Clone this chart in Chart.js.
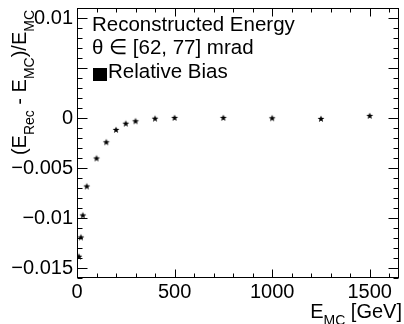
<!DOCTYPE html>
<html><head><meta charset="utf-8">
<script src="https://cdn.jsdelivr.net/npm/chart.js@4/dist/chart.umd.min.js"></script>
<style>html,body{margin:0;padding:0;background:#fff;overflow:hidden}#wrap{width:404px;height:324px;position:relative}</style>
</head><body><div id="wrap"><canvas id="c" width="404" height="324"></canvas></div>
<script>
// ---- data ----
const energies = [10, 20, 30, 50, 100, 150, 200, 250, 300, 400, 500, 750, 1000, 1250, 1500];
const relBias  = [-0.01387, -0.01195, -0.00975, -0.00685, -0.00405, -0.00243, -0.0012, -0.00057, -0.00033, -0.00007, 0.0, 0.0, -0.00003, -0.0001, 0.0002];
const xTickValues = [0, 500, 1000, 1500];
const yTickValues = [-0.015, -0.01, -0.005, 0, 0.01];
const legendLines = ['Reconstructed Energy', 'θ ∈ [62, 77] mrad'];
const seriesLabel = 'Relative Bias';
const yTitleParts = [['(E', 0], ['Rec', 1], [' - E', 0], ['MC', 1], [')/E', 0], ['MC', 1]];
const xTitleParts = [['E', 0], ['MC', 1], [' [GeV]', 0]];

const FONT = '"Liberation Sans", Arial, Helvetica, sans-serif';

// filled star marker
function makeStar(r) {
  const s = Math.ceil(r * 2 + 2);
  const cv = document.createElement('canvas');
  cv.width = s; cv.height = s;
  const c = cv.getContext('2d');
  c.fillStyle = '#000';
  c.beginPath();
  for (let i = 0; i < 10; i++) {
    const rr = i % 2 === 0 ? r : r * 0.42;
    const a = -Math.PI / 2 + i * Math.PI / 5;
    const px = s / 2 + rr * Math.cos(a), py = s / 2 + rr * Math.sin(a);
    if (i === 0) c.moveTo(px, py); else c.lineTo(px, py);
  }
  c.closePath(); c.fill();
  return cv;
}
const starImg = makeStar(3.6);

function fmt(v) { return String(+v.toFixed(4)).replace('-', '\u2212'); }

function richWidth(ctx, parts, size, subSize) {
  let w = 0;
  for (const [t, s] of parts) { ctx.font = (s ? subSize : size) + 'px ' + FONT; w += ctx.measureText(t).width; }
  return w;
}
function drawRich(ctx, parts, x, y, size, subSize, shift) {
  let cx = x;
  for (const [t, s] of parts) {
    ctx.font = (s ? subSize : size) + 'px ' + FONT;
    ctx.fillText(t, cx, y + (s ? shift : 0));
    cx += ctx.measureText(t).width;
  }
}

const decor = {
  id: 'rootDecor',
  afterDraw(chart) {
    const ctx = chart.ctx, a = chart.chartArea;
    const xs = chart.scales.x, ys = chart.scales.y;
    ctx.save();
    ctx.strokeStyle = '#000'; ctx.fillStyle = '#000'; ctx.lineWidth = 1;
    const L = Math.round(a.left) + 0.5, R = Math.round(a.right) - 0.5;
    const T = Math.round(a.top) + 0.5, B = Math.round(a.bottom) - 0.5;
    ctx.strokeRect(L, T, R - L, B - T);
    ctx.beginPath();
    // y ticks
    for (let k = -16; k <= 11; k++) {
      const v = k / 1000;
      const y = Math.round(ys.getPixelForValue(v)) + 0.5;
      const len = (k % 5 === 0) ? 10 : 5;
      ctx.moveTo(L, y); ctx.lineTo(L + len, y);
      ctx.moveTo(R, y); ctx.lineTo(R - len, y);
    }
    // x ticks
    for (let v = 0; v <= 1650; v += 100) {
      const x = Math.round(xs.getPixelForValue(v)) + 0.5;
      const len = (v % 500 === 0) ? 8 : 4;
      ctx.moveTo(x, B); ctx.lineTo(x, B - len);
      ctx.moveTo(x, T); ctx.lineTo(x, T + len);
    }
    ctx.stroke();

    // y title
    ctx.textBaseline = 'alphabetic'; ctx.textAlign = 'left';
    const yw = richWidth(ctx, yTitleParts, 20, 14);
    ctx.save();
    ctx.translate(26, 10 + yw);
    ctx.rotate(-Math.PI / 2);
    drawRich(ctx, yTitleParts, 0, 0, 20, 14, 8);
    ctx.restore();

    // x title
    const xw = richWidth(ctx, xTitleParts, 20, 14);
    drawRich(ctx, xTitleParts, 402 - xw, 318, 20, 14, 7);

    // legend
    ctx.font = '20.5px ' + FONT;
    ctx.fillText(legendLines[0], 92, 31);
    ctx.fillText(legendLines[1], 92, 54);
    ctx.fillRect(93, 68, 14, 13);
    ctx.fillText(seriesLabel, 108, 78);
    ctx.restore();
  }
};

new Chart(document.getElementById('c'), {
  type: 'scatter',
  data: {
    datasets: [{
      label: seriesLabel,
      data: energies.map((e, i) => ({ x: e, y: relBias[i] })),
      pointStyle: starImg,
      pointRadius: 4,
      backgroundColor: '#000',
      borderColor: '#000'
    }]
  },
  options: {
    responsive: false,
    animation: false,
    devicePixelRatio: 1,
    layout: { padding: { top: 8, right: 1, left: 0, bottom: 0 } },
    plugins: { legend: { display: false }, tooltip: { enabled: false } },
    scales: {
      x: {
        type: 'linear', min: 0, max: 1650,
        afterBuildTicks: s => { s.ticks = xTickValues.map(v => ({ value: v })); },
        afterFit: s => { s.height = 46; s.paddingLeft = 0; s.paddingRight = 0; },
        grid: { display: false, drawTicks: false }, border: { display: false },
        ticks: { color: '#000', font: { family: FONT, size: 20 }, padding: 2, maxRotation: 0, autoSkip: false, callback: v => fmt(v) }
      },
      y: {
        type: 'linear', min: -0.016, max: 0.011,
        afterBuildTicks: s => { s.ticks = yTickValues.map(v => ({ value: v })); },
        afterFit: s => { s.width = 77; s.paddingTop = 0; s.paddingBottom = 0; },
        grid: { display: false, drawTicks: false }, border: { display: false },
        ticks: { color: '#000', font: { family: FONT, size: 20 }, padding: 4, autoSkip: false, callback: v => fmt(v) }
      }
    }
  },
  plugins: [decor]
});
</script></body></html>
